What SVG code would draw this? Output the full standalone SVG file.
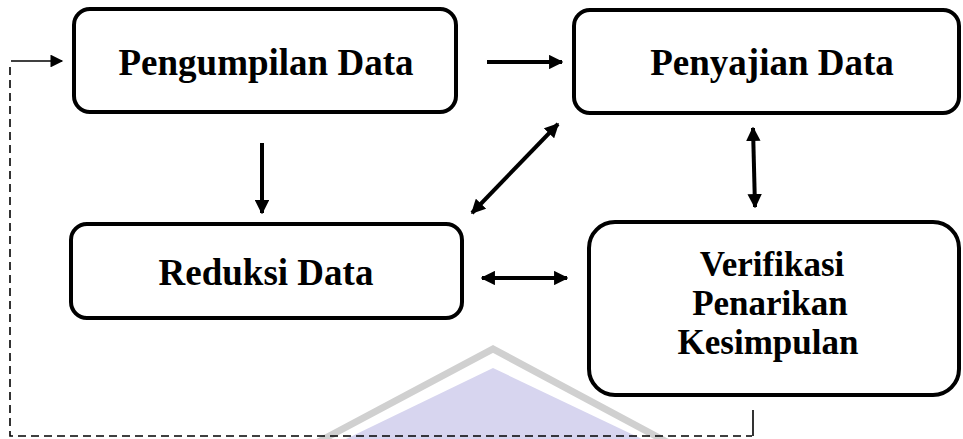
<svg xmlns="http://www.w3.org/2000/svg" width="963" height="439" viewBox="0 0 963 439">
<defs>
<style>
.box{fill:#fff;stroke:#000;stroke-width:4}
.lbl{font-family:"Liberation Serif","Times New Roman",serif;font-weight:bold;font-size:37px;fill:#000;text-anchor:middle}
.big{font-size:35px}
.thick{stroke:#000;stroke-width:4;fill:none}
.thin{stroke:#000;stroke-width:1.6;fill:none}
.dash{stroke:#000;stroke-width:1.6;fill:none;stroke-dasharray:8 5}
</style>
<marker id="ah" viewBox="0 0 10 10" refX="9" refY="5" markerWidth="3.6" markerHeight="3.6" orient="auto-start-reverse" markerUnits="strokeWidth">
<path d="M0,0 L10,5 L0,10 z" fill="#000"/>
</marker>
<marker id="ahs" viewBox="0 0 10 10" refX="9" refY="5" markerWidth="9" markerHeight="8" orient="auto" markerUnits="strokeWidth">
<path d="M0,0 L10,5 L0,10 z" fill="#000"/>
</marker>
</defs>
<g id="watermark">
<polyline points="318,442 493,349 667,442" fill="none" stroke="#d0d0d0" stroke-width="7"/>
<polygon points="346,439 493,368 642,439" fill="#d7d5ef"/>
</g>
<g id="connectors">
<line class="thin" x1="11" y1="61" x2="62" y2="61" marker-end="url(#ahs)"/>
<path class="dash" d="M10,67 V436 H752"/>
<line class="thin" x1="753" y1="436" x2="753" y2="410"/>
<line class="thick" x1="262" y1="143" x2="262" y2="213" marker-end="url(#ah)"/>
<line class="thick" x1="487" y1="62" x2="562" y2="62" marker-end="url(#ah)"/>
<line class="thick" x1="472" y1="213" x2="558" y2="124" marker-start="url(#ah)" marker-end="url(#ah)"/>
<line class="thick" x1="753" y1="128" x2="755" y2="207" marker-start="url(#ah)" marker-end="url(#ah)"/>
<line class="thick" x1="482" y1="278" x2="567" y2="278" marker-start="url(#ah)" marker-end="url(#ah)"/>
</g>
<g id="pengumpilan">
<rect class="box" x="74" y="9" width="382" height="103" rx="16"/>
<text class="lbl" x="266" y="75">Pengumpilan Data</text>
</g>
<g id="penyajian">
<rect class="box" x="574" y="10" width="385" height="103" rx="16"/>
<text class="lbl" x="772" y="75">Penyajian Data</text>
</g>
<g id="reduksi">
<rect class="box" x="71" y="224" width="391" height="94" rx="16"/>
<text class="lbl" x="266" y="285">Reduksi Data</text>
</g>
<g id="verifikasi">
<rect class="box" x="589" y="222" width="370" height="173" rx="26"/>
<text class="lbl big" x="772" y="276">Verifikasi</text>
<text class="lbl big" x="770" y="315">Penarikan</text>
<text class="lbl big" x="768" y="354">Kesimpulan</text>
</g>
</svg>
